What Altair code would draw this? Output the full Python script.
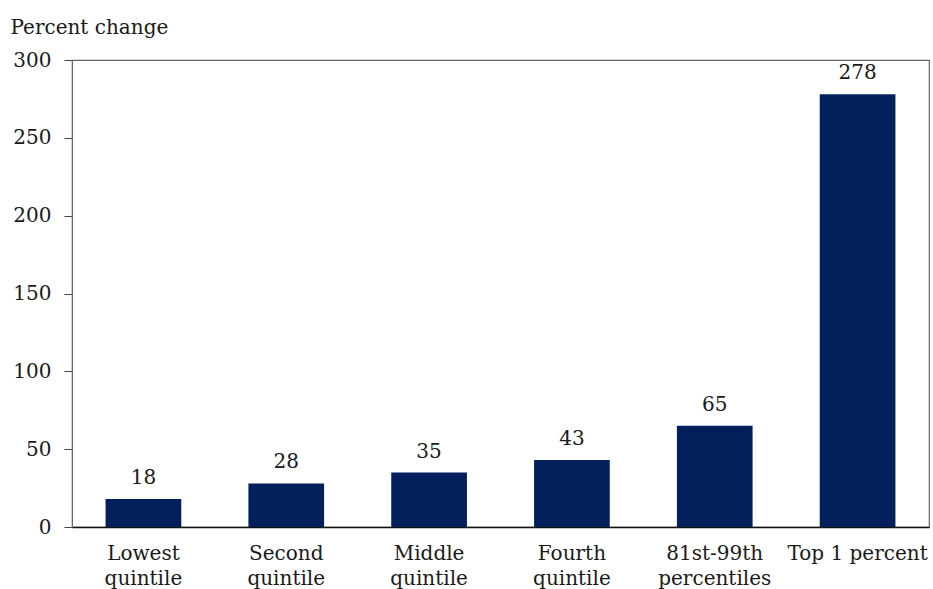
import altair as alt
import pandas as pd

categories = ["Lowest|quintile", "Second|quintile", "Middle|quintile", "Fourth|quintile",
              "81st-99th|percentiles", "Top 1 percent"]
values = [18, 28, 35, 43, 65, 278]

df = pd.DataFrame({"group": categories, "change": values})

FONT = "DejaVu Serif"
BAR = "#03205c"
FS = 20

base = alt.Chart(df).encode(
    x=alt.X("group:N", sort=None, title=None,
            scale=alt.Scale(paddingInner=0.47, paddingOuter=0.235),
            axis=alt.Axis(labelExpr="split(datum.label, '|')", labelAngle=0,
                          labelLineHeight=25, labelPadding=16, ticks=False,
                          labelFont=FONT, labelFontSize=FS, labelColor="#1a1a1a",
                          domainColor="#111", domainWidth=1.5, labelBaseline="top")),
    y=alt.Y("change:Q", scale=alt.Scale(domain=[0, 300], nice=False),
            title="Percent change",
            axis=alt.Axis(values=[0, 50, 100, 150, 200, 250, 300], grid=False,
                          tickSize=8, tickColor="#444", domainColor="#666",
                          labelPadding=13, labelFont=FONT, labelFontSize=FS,
                          labelColor="#1a1a1a",
                          titleAngle=0, titleAlign="left", titleBaseline="alphabetic",
                          titleX=-62, titleY=-27, titleFont=FONT, titleFontSize=FS,
                          titleFontWeight="normal", titleColor="#1a1a1a")),
)

bars = base.mark_bar(color=BAR)
labels = base.mark_text(font=FONT, fontSize=FS, color="#1a1a1a",
                        baseline="bottom", dy=-11).encode(text="change:Q")

chart = (bars + labels).properties(
    width=857, height=467,
    autosize=alt.AutoSizeParams(type="none"),
    padding={"left": 72, "top": 60, "right": 4, "bottom": 62},
).configure_view(stroke="#666", strokeWidth=1.2)

chart.save("out.html", embed_options={"renderer": "svg", "actions": False})
